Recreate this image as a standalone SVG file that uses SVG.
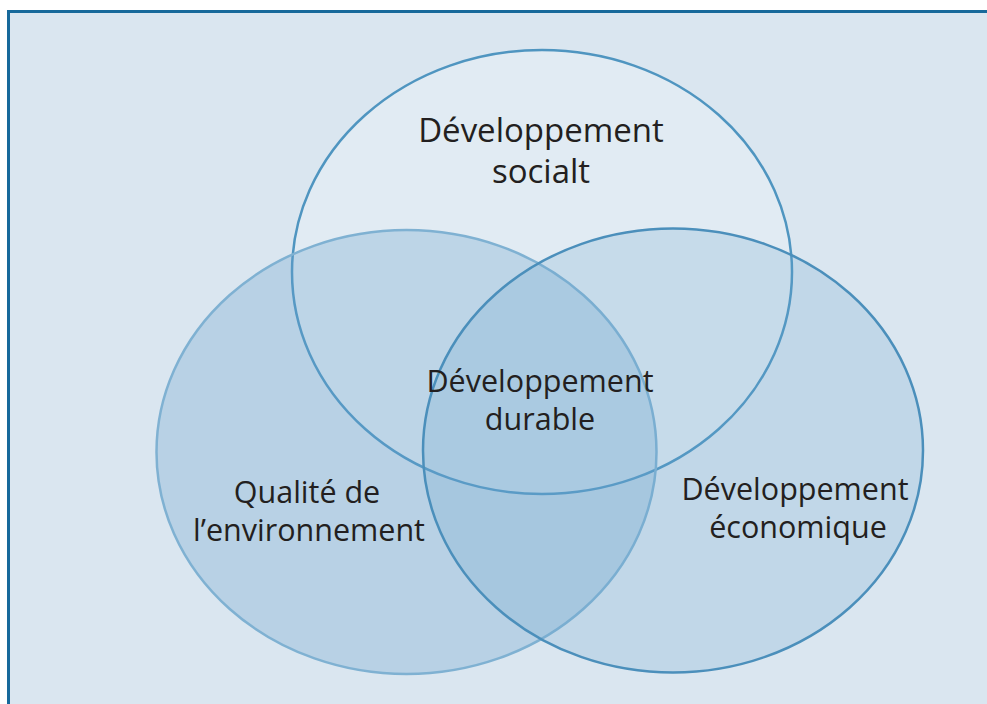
<svg xmlns="http://www.w3.org/2000/svg" width="987" height="704" viewBox="0 0 987 704">
<style>
text{font-family:"Open Sans","Noto Sans",sans-serif;fill:#231f20;text-anchor:middle}
.big{font-size:33px}
.mid{font-size:30.5px}
</style>
<rect x="0" y="0" width="987" height="704" fill="#ffffff"/>
<rect x="8.5" y="11.5" width="995" height="710" fill="#dae6f0" stroke="#17699b" stroke-width="3"/>
<g id="social">
<ellipse cx="542" cy="272" rx="250" ry="222" fill="#ffffff" fill-opacity="0.2" stroke="#4f95c0" stroke-width="2.5"/>
</g>
<g id="environnement">
<ellipse cx="406.5" cy="452" rx="250" ry="222" fill="#6aa3cc" fill-opacity="0.3" stroke="#7fb1d2" stroke-width="2.5"/>
</g>
<g id="economique">
<ellipse cx="673" cy="450.5" rx="250" ry="222" fill="#6aa3cc" fill-opacity="0.22" stroke="#4b8fbb" stroke-width="2.5"/>
</g>
<g id="labels">
<text class="big" x="541" y="142">Développement</text>
<text class="big" x="541" y="183">socialt</text>
<text class="mid" x="540" y="392">Développement</text>
<text class="mid" x="540" y="430">durable</text>
<text class="mid" x="307" y="503">Qualité de</text>
<text class="mid" x="309" y="541">l’environnement</text>
<text class="mid" x="795" y="500">Développement</text>
<text class="mid" x="798" y="538">économique</text>
</g>
</svg>
